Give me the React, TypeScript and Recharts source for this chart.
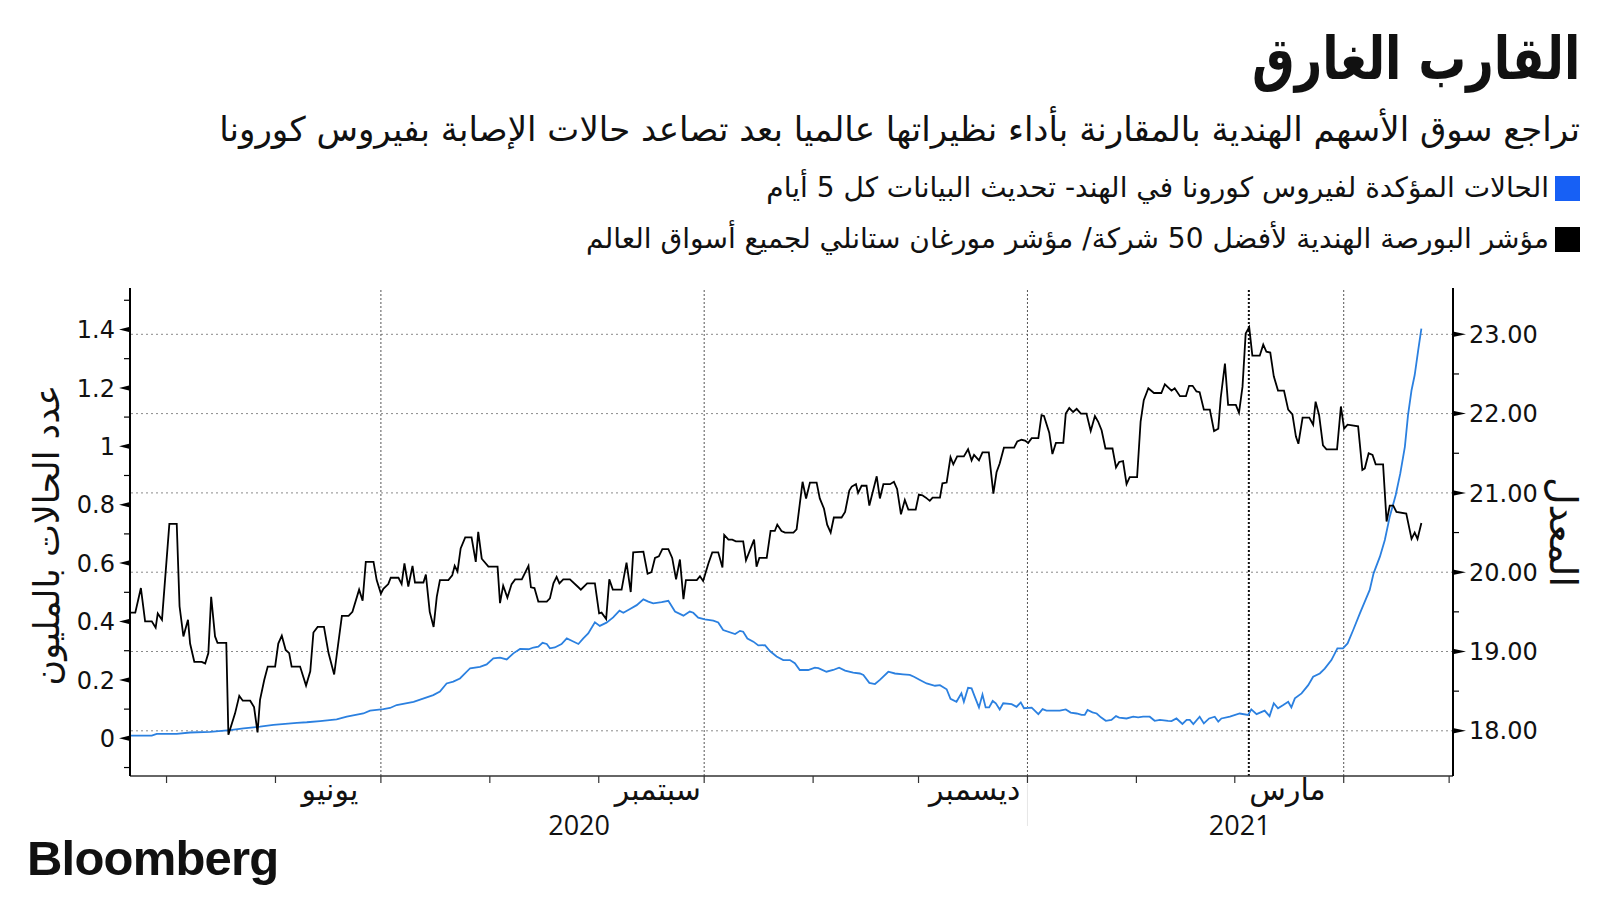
import React from 'react';
import { LineChart, Line, XAxis, YAxis, ReferenceLine } from 'recharts';

// x values are days counted from 2020-01-01
const blackDays = [
  110.7, 112.1, 113.7, 114.9, 116.8, 117.9, 118.5, 119.7, 121.8, 123.9,
  124.7, 125.8, 127.1, 127.7, 128.9, 131.0, 132.0, 132.9, 133.7, 134.8,
  135.5, 138.0, 138.6, 140.5, 141.7, 142.7, 144.8, 145.9, 146.9, 147.6,
  148.8, 149.8, 151.9, 152.8, 153.8, 154.9, 155.9, 156.6, 159.0, 160.7,
  161.9, 162.8, 164.0, 165.8, 167.1, 168.7, 170.9, 172.8, 173.9, 175.8,
  176.8, 177.7, 179.9, 180.8, 182.0, 182.7, 184.1, 184.8, 187.0, 187.9,
  188.7, 189.8, 191.0, 191.7, 194.1, 194.8, 195.9, 197.0, 197.9, 198.8,
  201.2, 202.3, 203.0, 203.8, 204.7, 206.0, 207.8, 209.0, 209.7, 210.7,
  212.6, 215.2, 215.9, 216.8, 218.0, 219.2, 220.2, 222.1, 224.0, 224.7,
  225.7, 226.8, 229.2, 230.1, 231.1, 232.0, 232.8, 233.9, 235.8, 238.2,
  238.9, 240.7, 242.9, 244.1, 244.8, 246.1, 247.0, 248.0, 250.5, 251.9,
  253.1, 253.8, 256.7, 257.9, 259.0, 260.0, 261.1, 262.1, 263.8, 264.9,
  266.0, 267.1, 268.1, 268.8, 271.9, 272.8, 273.7, 275.2, 276.3, 278.0,
  279.2, 279.7, 280.9, 282.0, 283.0, 285.1, 285.9, 288.2, 288.9, 289.7,
  291.8, 292.9, 294.1, 294.8, 296.0, 297.0, 299.4, 300.3, 302.0, 303.0,
  304.1, 306.0, 306.9, 308.1, 309.0, 310.0, 310.9, 313.1, 314.1, 315.3,
  316.0, 317.2, 317.8, 318.8, 320.2, 321.0, 323.1, 324.0, 325.0, 326.9,
  328.0, 328.9, 330.0, 331.1, 332.1, 334.2, 335.1, 336.1, 337.1, 338.2,
  339.0, 341.1, 341.8, 343.0, 344.1, 344.9, 346.0, 347.9, 349.1, 350.1,
  350.8, 352.2, 353.2, 355.0, 356.3, 357.2, 358.1, 359.3, 362.2, 363.1,
  364.3, 365.3, 366.2, 367.2, 369.1, 370.0, 370.7, 372.2, 373.1, 374.1,
  376.2, 376.9, 377.9, 379.0, 380.0, 381.2, 382.8, 384.0, 385.2, 386.1,
  387.1, 388.2, 390.2, 391.2, 392.1, 393.2, 394.2, 395.1, 397.2, 398.2,
  399.1, 400.4, 402.0, 404.1, 405.1, 407.0, 407.9, 409.4, 411.1, 412.0,
  413.0, 414.1, 415.0, 416.2, 417.9, 419.1, 420.3, 421.0, 422.2, 423.1,
  425.3, 426.2, 427.2, 428.1, 429.1, 430.0, 432.1, 433.1, 434.0, 435.1,
  436.1, 437.3, 439.0, 440.2, 441.4, 442.4, 443.1, 444.3, 446.2, 447.3,
  448.0, 449.0, 450.1, 451.1, 454.1, 455.2, 456.1, 457.1, 460.1, 461.3,
  462.0, 463.1, 464.2, 465.1, 467.2, 468.2, 469.1, 470.1, 471.0, 473.8,
  475.3, 476.2, 477.0, 478.1,
];

// Nifty 50 / MSCI ACWI ratio
const blackValues = [
  19.49, 19.49, 19.80, 19.38, 19.38, 19.30, 19.48, 19.40, 20.61, 20.61,
  19.57, 19.19, 19.40, 19.10, 18.87, 18.87, 18.85, 18.98, 19.69, 19.19,
  19.11, 19.11, 17.95, 18.22, 18.44, 18.38, 18.38, 18.30, 17.98, 18.39,
  18.64, 18.81, 18.81, 19.10, 19.20, 19.02, 18.98, 18.81, 18.81, 18.57,
  18.75, 19.24, 19.31, 19.31, 18.98, 18.71, 19.45, 19.45, 19.50, 19.78,
  19.64, 20.13, 20.13, 19.90, 19.73, 19.79, 19.85, 19.93, 19.93, 19.85,
  20.11, 19.82, 20.08, 19.87, 19.87, 19.97, 19.50, 19.31, 19.69, 19.90,
  19.90, 19.96, 20.08, 20.01, 20.30, 20.44, 20.44, 20.13, 20.51, 20.17,
  20.07, 20.07, 19.61, 19.83, 19.68, 19.85, 19.91, 19.91, 20.08, 19.81,
  19.80, 19.63, 19.63, 19.67, 19.86, 19.94, 19.86, 19.91, 19.91, 19.81,
  19.78, 19.86, 19.86, 19.48, 19.49, 19.41, 19.91, 19.78, 19.78, 20.12,
  19.75, 20.25, 20.26, 19.98, 20.00, 20.18, 20.20, 20.29, 20.29, 20.18,
  19.91, 20.16, 19.66, 19.90, 19.90, 19.95, 19.89, 20.11, 20.25, 20.25,
  20.06, 20.47, 20.41, 20.41, 20.39, 20.39, 20.15, 20.41, 20.07, 20.18,
  20.18, 20.52, 20.52, 20.60, 20.52, 20.50, 20.50, 20.54, 21.14, 20.93,
  21.13, 21.13, 20.93, 20.80, 20.60, 20.50, 20.69, 20.69, 20.76, 21.03,
  21.08, 21.11, 21.00, 21.09, 21.09, 20.84, 21.21, 20.93, 21.11, 21.11,
  21.14, 21.05, 20.73, 20.91, 20.79, 20.79, 20.98, 20.97, 20.94, 20.90,
  20.94, 20.94, 21.12, 21.13, 21.45, 21.36, 21.46, 21.46, 21.55, 21.41,
  21.48, 21.41, 21.51, 21.51, 20.99, 21.26, 21.37, 21.57, 21.57, 21.65,
  21.67, 21.66, 21.63, 21.69, 21.69, 21.98, 21.97, 21.76, 21.49, 21.63,
  21.63, 22.00, 22.07, 22.02, 22.06, 22.00, 22.00, 21.78, 21.97, 21.90,
  21.79, 21.56, 21.56, 21.32, 21.39, 21.40, 21.11, 21.20, 21.20, 21.90,
  22.17, 22.32, 22.26, 22.26, 22.37, 22.29, 22.32, 22.22, 22.22, 22.35,
  22.35, 22.28, 22.27, 22.05, 22.05, 21.78, 21.81, 22.20, 22.63, 22.11,
  22.11, 22.01, 22.34, 23.01, 23.09, 22.73, 22.73, 22.87, 22.78, 22.77,
  22.47, 22.29, 22.29, 22.05, 21.99, 21.71, 21.62, 21.95, 21.95, 21.86,
  22.15, 21.98, 21.60, 21.55, 21.55, 22.09, 21.81, 21.86, 21.84, 21.29,
  21.31, 21.50, 21.48, 21.36, 21.36, 20.64, 20.84, 20.84, 20.76, 20.74,
  20.42, 20.50, 20.42, 20.62,
];

const blueDays = [
  110.7, 116.8, 118.2, 123.9, 127.7, 133.4, 139.1, 142.9, 147.6, 151.4,
  158.1, 160.9, 164.7, 169.4, 172.3, 177.0, 178.9, 182.7, 184.6, 186.5,
  191.3, 196.9, 198.8, 200.7, 202.6, 204.5, 207.4, 210.2, 212.1, 214.0,
  215.9, 217.8, 219.7, 221.6, 224.0, 225.4, 226.8, 228.0, 229.2, 230.1,
  231.5, 233.4, 234.9, 236.3, 238.2, 239.6, 241.0, 242.9, 244.3, 246.2,
  248.1, 249.9, 251.0, 252.9, 254.8, 256.7, 258.1, 259.5, 261.9, 263.8,
  265.7, 268.1, 269.9, 270.9, 272.3, 274.2, 276.6, 278.0, 279.4, 282.8,
  284.2, 285.1, 286.3, 288.0, 289.4, 291.3, 292.7, 294.6, 296.5, 298.4,
  299.8, 301.2, 303.6, 305.5, 306.5, 308.8, 310.7, 312.4, 314.1, 316.4,
  318.3, 319.3, 321.0, 322.6, 324.0, 326.4, 328.3, 330.6, 332.5, 333.7,
  335.4, 337.3, 339.7, 341.1, 343.0, 344.1, 345.8, 347.2, 347.9, 349.1,
  350.1, 351.0, 352.2, 353.2, 354.1, 355.1, 356.1, 357.0, 358.1, 359.1,
  361.5, 362.9, 364.1, 365.0, 367.2, 369.1, 370.3, 371.4, 375.2, 376.9,
  378.3, 380.0, 381.4, 382.3, 383.1, 384.5, 385.7, 386.9, 388.3, 389.9,
  391.2, 392.1, 394.2, 396.1, 397.5, 398.9, 400.8, 402.2, 403.7, 406.0,
  407.0, 408.4, 410.1, 411.3, 412.2, 413.2, 415.0, 416.2, 417.7, 419.3,
  420.3, 421.2, 423.6, 426.4, 428.8, 429.7, 431.2, 433.5, 434.9, 436.1,
  437.3, 438.8, 440.2, 441.1, 442.1, 444.0, 445.9, 447.3, 449.2, 450.6,
  452.5, 454.2, 455.8, 457.1, 458.7, 460.6, 462.0, 463.4, 464.5, 466.3,
  467.7, 469.1, 470.8, 472.1, 473.4, 474.3, 475.3, 476.2, 477.2, 478.1,
];

// confirmed cases in India, millions
const blueValues = [
  0.009, 0.009, 0.015, 0.015, 0.020, 0.022, 0.028, 0.034, 0.040, 0.046,
  0.053, 0.055, 0.059, 0.065, 0.074, 0.085, 0.095, 0.100, 0.104, 0.114,
  0.125, 0.148, 0.160, 0.188, 0.194, 0.205, 0.240, 0.245, 0.253, 0.274,
  0.276, 0.270, 0.291, 0.306, 0.305, 0.311, 0.314, 0.327, 0.323, 0.308,
  0.311, 0.323, 0.342, 0.334, 0.323, 0.342, 0.359, 0.397, 0.385, 0.396,
  0.414, 0.437, 0.430, 0.443, 0.456, 0.476, 0.468, 0.462, 0.466, 0.471,
  0.434, 0.420, 0.434, 0.430, 0.413, 0.407, 0.403, 0.397, 0.371, 0.357,
  0.368, 0.365, 0.342, 0.331, 0.318, 0.319, 0.299, 0.280, 0.268, 0.268,
  0.257, 0.234, 0.234, 0.242, 0.240, 0.228, 0.234, 0.242, 0.232, 0.225,
  0.222, 0.217, 0.190, 0.186, 0.200, 0.228, 0.222, 0.219, 0.217, 0.211,
  0.200, 0.188, 0.180, 0.182, 0.168, 0.135, 0.125, 0.154, 0.125, 0.173,
  0.171, 0.143, 0.106, 0.150, 0.106, 0.106, 0.128, 0.120, 0.099, 0.120,
  0.117, 0.108, 0.123, 0.103, 0.105, 0.083, 0.100, 0.095, 0.095, 0.099,
  0.088, 0.085, 0.080, 0.080, 0.097, 0.089, 0.085, 0.072, 0.060, 0.063,
  0.076, 0.071, 0.068, 0.074, 0.072, 0.074, 0.074, 0.060, 0.063, 0.060,
  0.059, 0.068, 0.049, 0.063, 0.063, 0.049, 0.074, 0.051, 0.068, 0.074,
  0.057, 0.068, 0.074, 0.085, 0.080, 0.099, 0.083, 0.095, 0.076, 0.120,
  0.103, 0.114, 0.125, 0.106, 0.137, 0.154, 0.182, 0.211, 0.222, 0.239,
  0.268, 0.308, 0.308, 0.325, 0.371, 0.428, 0.468, 0.508, 0.565, 0.622,
  0.679, 0.759, 0.833, 0.907, 0.998, 1.107, 1.192, 1.244, 1.329, 1.403,
];

// x axis: month starts, quarter gridlines, labels
const monthStarts = [121, 152, 182, 213, 244, 274, 305, 335, 366, 397, 425, 456, 486];
const quarterLines = [182, 274, 366, 456];
const markerDay = 429;
const monthLabelDays = [167.5, 260.8, 351, 440];
const monthLabels = ['يونيو', 'سبتمبر', 'ديسمبر', 'مارس'];
const yearDays = [238.4, 426.4];
const yearLabels = ['2020', '2021'];
const yearSplit = 366;

const leftTicks = [0, 0.2, 0.4, 0.6, 0.8, 1, 1.2, 1.4];
const leftTickLabels = ['0', '0.2', '0.4', '0.6', '0.8', '1', '1.2', '1.4'];
const leftMinor = [-0.1, 0.1, 0.3, 0.5, 0.7, 0.9, 1.1, 1.3, 1.5];
const rightTicks = [18, 19, 20, 21, 22, 23];
const rightTickLabels = ['18.00', '19.00', '20.00', '21.00', '22.00', '23.00'];
const rightMinor = [18.5, 19.5, 20.5, 21.5, 22.5];

const blackSeries = blackDays.map((d, i) => ({ d, v: blackValues[i] }));
const blueSeries = blueDays.map((d, i) => ({ d, v: blueValues[i] }));

const ARABIC = "'DejaVu Sans', sans-serif";
const NUM = "'DejaVu Sans', sans-serif";
const BLUE_LINE = '#2b80e0';
const BLUE_KEY = '#1760f5';

const near = (list: number[], v: number) => list.findIndex((t) => Math.abs(t - v) < 1e-6);

function LeftTick({ x, y, payload }: any) {
  const i = near(leftTicks, payload.value);
  if (i < 0) return <line x1={x - 6} x2={x} y1={y} y2={y} stroke="#000" strokeWidth={1.2} />;
  return (
    <g>
      <path d={`M${x - 11},${y} L${x - 1},${y - 2.5} L${x - 1},${y + 2.5} Z`} fill="#000" />
      <line x1={x - 2} x2={x} y1={y} y2={y} stroke="#000" strokeWidth={1.2} />
      <text x={x - 15} y={y} dy="0.36em" textAnchor="end" fontFamily={NUM} fontSize={24} fill="#111">
        {leftTickLabels[i]}
      </text>
    </g>
  );
}

function RightTick({ x, y, payload }: any) {
  const i = near(rightTicks, payload.value);
  if (i < 0) return <line x1={x} x2={x + 6} y1={y} y2={y} stroke="#000" strokeWidth={1.2} />;
  return (
    <g>
      <path d={`M${x + 13},${y} L${x + 1},${y - 2.5} L${x + 1},${y + 2.5} Z`} fill="#000" />
      <line x1={x} x2={x + 2} y1={y} y2={y} stroke="#000" strokeWidth={1.2} />
      <text x={x + 16} y={y} dy="0.36em" textAnchor="start" fontFamily={NUM} fontSize={24} fill="#111">
        {rightTickLabels[i]}
      </text>
    </g>
  );
}

function BottomTick({ x, y, payload }: any) {
  const v = payload.value;
  const mi = near(monthLabelDays, v);
  if (mi >= 0) {
    return (
      <text x={x} y={y + 24} textAnchor="middle" direction="rtl" fontFamily={ARABIC} fontSize={30} fill="#111">
        {monthLabels[mi]}
      </text>
    );
  }
  const yi = near(yearDays, v);
  if (yi >= 0) {
    return (
      <text x={x} y={y + 59} textAnchor="middle" fontFamily="'Open Sans', sans-serif" fontSize={27} fill="#111">
        {yearLabels[yi]}
      </text>
    );
  }
  return (
    <g>
      <line x1={x} x2={x} y1={y} y2={y + 7} stroke="#333" strokeWidth={1.2} />
      {Math.abs(v - yearSplit) < 1e-6 && (
        <line x1={x} x2={x} y1={y + 8} y2={y + 50} stroke="#e6e6e6" strokeWidth={1} />
      )}
    </g>
  );
}

const xTicks = [...monthStarts, ...monthLabelDays, ...yearDays].sort((a, b) => a - b);
const leftAll = [...leftMinor, ...leftTicks].sort((a, b) => a - b);
const rightAll = [...rightMinor, ...rightTicks].sort((a, b) => a - b);

export default function App() {
  return (
    <div
      style={{
        position: 'absolute',
        left: 0,
        top: 0,
        width: 1600,
        height: 900,
        background: '#fff',
        overflow: 'hidden',
        color: '#111',
      }}
    >
      <div
        dir="rtl"
        style={{
          position: 'absolute',
          right: 20,
          top: 29,
          fontFamily: ARABIC,
          fontWeight: 700,
          fontSize: 59,
          lineHeight: 1,
          whiteSpace: 'nowrap',
          transform: 'scaleX(0.81)',
          transformOrigin: 'right center',
        }}
      >
        القارب الغارق
      </div>
      <div
        dir="rtl"
        style={{
          position: 'absolute',
          right: 20,
          top: 112,
          fontFamily: ARABIC,
          fontSize: 34,
          lineHeight: 1,
          whiteSpace: 'nowrap',
        }}
      >
        تراجع سوق الأسهم الهندية بالمقارنة بأداء نظيراتها عالميا بعد تصاعد حالات الإصابة بفيروس كورونا
      </div>

      <div style={{ position: 'absolute', left: 1555, top: 176, width: 25, height: 25, background: BLUE_KEY }} />
      <div
        dir="rtl"
        style={{
          position: 'absolute',
          right: 51,
          top: 173,
          fontFamily: ARABIC,
          fontSize: 28,
          lineHeight: '30px',
          whiteSpace: 'nowrap',
        }}
      >
        الحالات المؤكدة لفيروس كورونا في الهند- تحديث البيانات كل 5 أيام
      </div>
      <div style={{ position: 'absolute', left: 1555, top: 227, width: 25, height: 25, background: '#000' }} />
      <div
        dir="rtl"
        style={{
          position: 'absolute',
          right: 51,
          top: 224,
          fontFamily: ARABIC,
          fontSize: 28,
          lineHeight: '30px',
          whiteSpace: 'nowrap',
        }}
      >
        مؤشر البورصة الهندية لأفضل 50 شركة/ مؤشر مورغان ستانلي لجميع أسواق العالم
      </div>

      <div
        dir="rtl"
        style={{
          position: 'absolute',
          left: 47,
          top: 535,
          transform: 'translate(-50%, -50%) rotate(-90deg)',
          fontFamily: ARABIC,
          fontSize: 35,
          whiteSpace: 'nowrap',
        }}
      >
        عدد الحالات بالمليون
      </div>
      <div
        dir="rtl"
        style={{
          position: 'absolute',
          left: 1563,
          top: 532,
          transform: 'translate(-50%, -50%) rotate(90deg)',
          fontFamily: ARABIC,
          fontSize: 38,
          whiteSpace: 'nowrap',
        }}
      >
        المعدل
      </div>

      <div style={{ position: 'absolute', left: 0, top: 0 }}>
        <LineChart width={1600} height={900} margin={{ top: 288, right: 47, bottom: 94, left: 50 }}>
          <XAxis
            dataKey="d"
            type="number"
            domain={[110.6, 487.1]}
            allowDataOverflow
            ticks={xTicks}
            interval={0}
            tick={BottomTick}
            tickLine={false}
            tickSize={0}
            tickMargin={0}
            height={30}
            axisLine={{ stroke: '#333', strokeWidth: 1.5 }}
          />
          <YAxis
            yAxisId="left"
            orientation="left"
            type="number"
            domain={[-0.129, 1.542]}
            allowDataOverflow
            ticks={leftAll}
            interval={0}
            tick={LeftTick}
            tickLine={false}
            tickSize={0}
            tickMargin={0}
            width={80}
            axisLine={{ stroke: '#000', strokeWidth: 2 }}
          />
          <YAxis
            yAxisId="right"
            orientation="right"
            type="number"
            domain={[17.43, 23.584]}
            allowDataOverflow
            ticks={rightAll}
            interval={0}
            tick={RightTick}
            tickLine={false}
            tickSize={0}
            tickMargin={0}
            width={100}
            axisLine={{ stroke: '#000', strokeWidth: 2 }}
          />
          {rightTicks.map((t) => (
            <ReferenceLine key={`h${t}`} yAxisId="right" y={t} stroke="#8a8a8a" strokeDasharray="2 3" strokeWidth={1} />
          ))}
          {quarterLines.map((q) => (
            <ReferenceLine key={`q${q}`} yAxisId="right" x={q} stroke="#555" strokeDasharray="2 2" strokeWidth={1} />
          ))}
          <ReferenceLine yAxisId="right" x={markerDay} stroke="#111" strokeDasharray="2 2" strokeWidth={2} />
          <Line
            yAxisId="left"
            data={blueSeries}
            dataKey="v"
            type="linear"
            stroke={BLUE_LINE}
            strokeWidth={1.8}
            dot={false}
            isAnimationActive={false}
          />
          <Line
            yAxisId="right"
            data={blackSeries}
            dataKey="v"
            type="linear"
            stroke="#000"
            strokeWidth={1.8}
            dot={false}
            isAnimationActive={false}
          />
        </LineChart>
      </div>

      <div
        style={{
          position: 'absolute',
          left: 27,
          top: 834,
          fontFamily: "'Liberation Sans', Arial, sans-serif",
          fontWeight: 700,
          fontSize: 49,
          letterSpacing: -0.8,
          lineHeight: 1,
        }}
      >
        Bloomberg
      </div>
    </div>
  );
}
